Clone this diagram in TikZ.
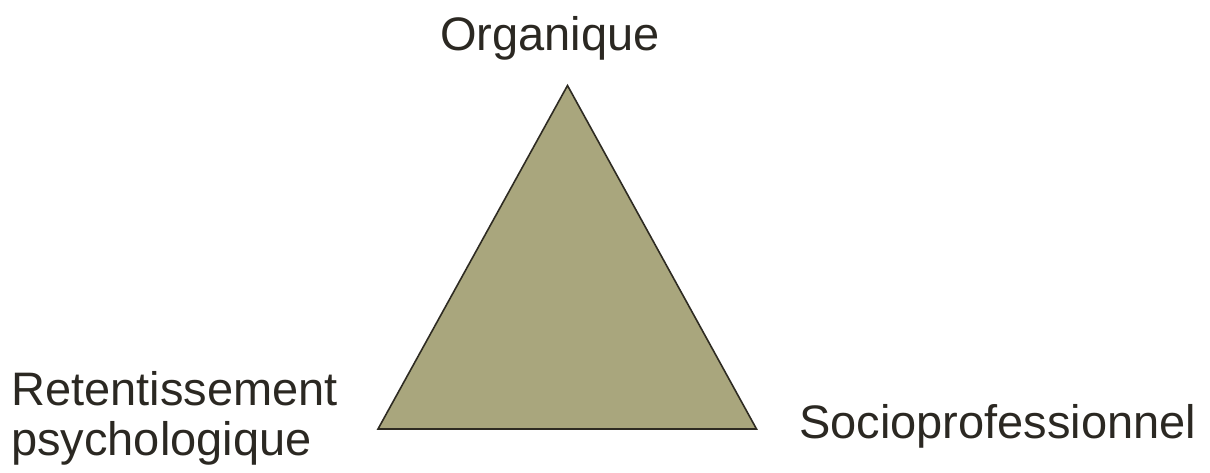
\documentclass[tikz,border=0pt]{standalone}
\usepackage{fontspec}
\setmainfont{Liberation Sans}
\definecolor{trifill}{HTML}{A9A67D}
\definecolor{triline}{HTML}{2E2B22}
\definecolor{txt}{HTML}{2B2822}
\begin{document}
\begin{tikzpicture}[x=1pt,y=-1pt,
  lbl/.style={inner sep=0pt, text=txt, font=\fontsize{47}{50}\selectfont}]
\useasboundingbox (0,0) rectangle (1210,472);
\coordinate (apex) at (567.5,85.5);
\coordinate (bl) at (378,429);
\coordinate (br) at (756.5,429);
\filldraw[fill=trifill, draw=triline, line width=1.6pt, line join=miter] (apex) -- (br) -- (bl) -- cycle;
\node[lbl, anchor=base] (org) at (550,50) {Organique};
\node[lbl, anchor=base west, align=left] (ret) at (11,455) {Retentissement\\psychologique};
\node[lbl, anchor=base west] (soc) at (799,438) {Socioprofessionnel};
\end{tikzpicture}
\end{document}
